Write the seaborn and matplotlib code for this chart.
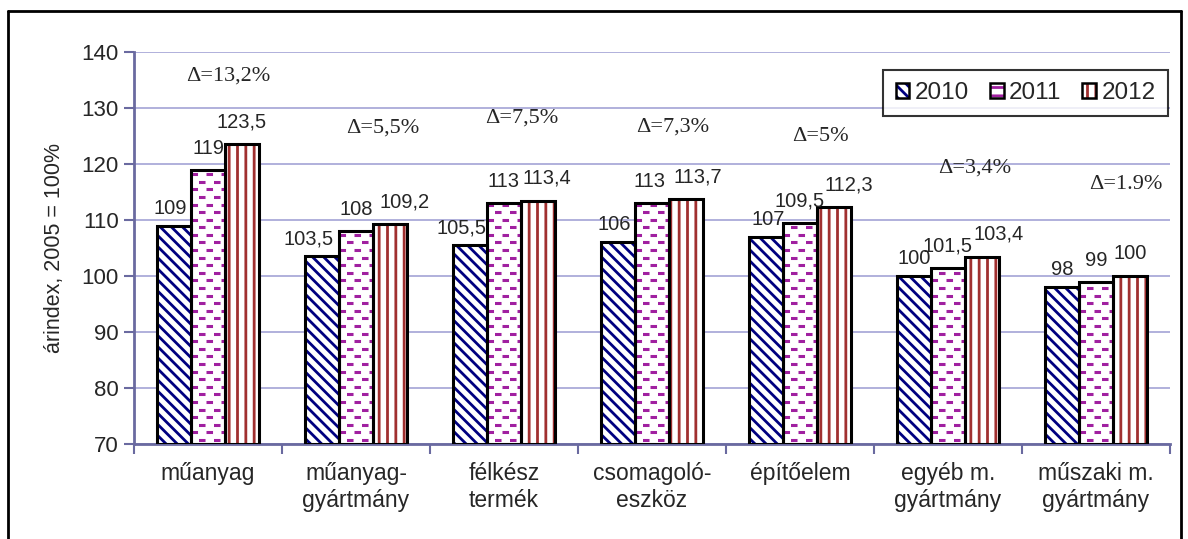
"""
Árindex oszlopdiagram (2005 = 100%), 2010-2012
"""

import numpy as np
import pandas as pd
import matplotlib
matplotlib.use("Agg")
import matplotlib.pyplot as plt
from matplotlib.patches import Patch, Rectangle
from matplotlib.lines import Line2D
import seaborn as sns

# ============ DATA ============
CATEGORIES = ["műanyag", "műanyag-\ngyártmány", "félkész\ntermék", "csomagoló-\neszköz",
              "építőelem", "egyéb m.\ngyártmány", "műszaki m.\ngyártmány"]
YEARS = ["2010", "2011", "2012"]
VALUES_2010 = [109, 103.5, 105.5, 106, 107, 100, 98]
VALUES_2011 = [119, 108, 113, 113, 109.5, 101.5, 99]
VALUES_2012 = [123.5, 109.2, 113.4, 113.7, 112.3, 103.4, 100]
DELTA_LABELS = ["Δ=13,2%", "Δ=5,5%", "Δ=7,5%", "Δ=7,3%", "Δ=5%", "Δ=3,4%", "Δ=1.9%"]

# ============ STYLE / LAYOUT ============
DELTA_Y = [135.7, 126.4, 128.2, 126.6, 125.0, 119.3, 116.4]
DELTA_DX = [0.14, 0.18, 0.12, 0.14, 0.14, 0.18, 0.2]
# horizontal nudges of the value labels (pixels), one list per year
LABEL_DX = [[-4, -13, -8, -4, 2, 0, 0],
            [0, 0, 0, -2, 0, 0, 0],
            [0, 15, 9, 12, 15, 17, 0]]
LABEL_DY = [8, 12, 13]
HATCHES = ["\\\\\\", None, "||"]
HATCH_COLORS = ["#000080", "#a020a0", "#a03030"]
GRID_COLOR = "#a3a3d6"
AXIS_COLOR = "#6a6aa0"
YMIN, YMAX = 70, 140

sns.set_style("white")
plt.rcParams["font.family"] = ["Liberation Sans", "DejaVu Sans"]
plt.rcParams["hatch.linewidth"] = 2.0
plt.rcParams["lines.scale_dashes"] = False

df = pd.DataFrame({
    "cat": CATEGORIES * 3,
    "year": [y for y in YEARS for _ in CATEGORIES],
    "val": VALUES_2010 + VALUES_2011 + VALUES_2012,
})

fig = plt.figure(figsize=(11.88, 5.39), dpi=100)
ax = fig.add_axes([0.1128, 0.1763, 0.9848 - 0.1128, 0.9035 - 0.1763])

sns.barplot(data=df, x="cat", y="val", hue="year", order=CATEGORIES, hue_order=YEARS,
            palette=["white"] * 3, width=0.69, saturation=1, errorbar=None,
            legend=False, ax=ax, zorder=3)

ax.set_ylim(YMIN, YMAX)
ax.set_xlim(-0.5, len(CATEGORIES) - 0.5)

px = 72 / fig.dpi
for k, (cont, hatch, hc) in enumerate(zip(ax.containers, HATCHES, HATCH_COLORS)):
    for j, bar in enumerate(cont):
        x0, w = bar.get_x(), bar.get_width()
        top = bar.get_y() + bar.get_height()
        bar.set_linewidth(0)
        if hatch:
            bar.set_hatch(hatch)
            bar.set_edgecolor(hc)
        else:
            # dashed horizontal pattern, staggered row by row
            for r, yy in enumerate(np.arange(YMIN + 0.7, top, 1.357)):
                ln = Line2D([x0, x0 + w], [yy, yy], color=hc, lw=2.2,
                            linestyle=(0 if r % 2 else 5.4, (4.7, 6.1)), zorder=3.5)
                ln.set_clip_path(bar)
                ax.add_line(ln)
        ax.add_patch(Rectangle((x0, YMIN), w, top - YMIN, facecolor="none",
                               edgecolor="black", linewidth=2.2, zorder=4))
        v = cont.datavalues[j]
        ax.annotate(f"{v:g}".replace(".", ","), (x0 + w / 2, v),
                    xytext=(LABEL_DX[k][j] * px, LABEL_DY[k] * px), textcoords="offset points",
                    ha="center", va="bottom", fontsize=14.5, zorder=5)

for i, (txt, y, dx) in enumerate(zip(DELTA_LABELS, DELTA_Y, DELTA_DX)):
    ax.text(i + dx, y, txt, ha="center", va="center", fontsize=16,
            family=["Liberation Serif", "DejaVu Serif"])

# axes
ax.set_yticks(range(YMIN, YMAX + 1, 10))
ax.grid(axis="y", color=GRID_COLOR, linewidth=1.2, zorder=0)
ax.grid(axis="x", visible=False)
for s in ["top", "right"]:
    ax.spines[s].set_visible(False)
for s in ["left", "bottom"]:
    ax.spines[s].set_color(AXIS_COLOR)
    ax.spines[s].set_linewidth(2)
ax.tick_params(axis="y", which="major", direction="out", length=7, width=1.5,
               color=AXIS_COLOR, labelsize=16, left=True, pad=4)
ax.set_xticks(range(len(CATEGORIES)))
ax.set_xticklabels(CATEGORIES, fontsize=16.5)
ax.tick_params(axis="x", which="major", length=0, pad=13)
ax.set_xticks([i - 0.5 for i in range(len(CATEGORIES) + 1)], minor=True)
ax.tick_params(axis="x", which="minor", direction="out", length=7, width=1.5,
               color=AXIS_COLOR, bottom=True)
ax.set_xlabel("")
ax.set_ylabel("árindex, 2005 = 100%", fontsize=15.5, labelpad=12)

handles = []
for h, hc in zip(["\\\\\\", "--", "||"], HATCH_COLORS):
    handles.append((Patch(facecolor="white", edgecolor=hc, hatch=h, linewidth=0),
                    Patch(facecolor="none", edgecolor="black", linewidth=1.8)))
leg = ax.legend(handles, YEARS, loc="upper right", bbox_to_anchor=(0.998, 0.954),
                borderaxespad=0, ncol=3, fontsize=17.5, frameon=True, fancybox=False,
                handlelength=0.57, handleheight=0.57, handletextpad=0.22,
                columnspacing=0.86, borderpad=0.5, edgecolor="black")
leg.get_frame().set_linewidth(1.5)
leg.set_zorder(6)

# outer chart frame
fig.add_artist(Line2D([8 / 1188, 8 / 1188], [0, 1 - 11 / 539], color="black", lw=2))
fig.add_artist(Line2D([8 / 1188, 1181 / 1188], [1 - 11 / 539, 1 - 11 / 539], color="black", lw=2))
fig.add_artist(Line2D([1181 / 1188, 1181 / 1188], [0, 1 - 11 / 539], color="black", lw=2))

fig.savefig("out.png", dpi=100, facecolor="white")
